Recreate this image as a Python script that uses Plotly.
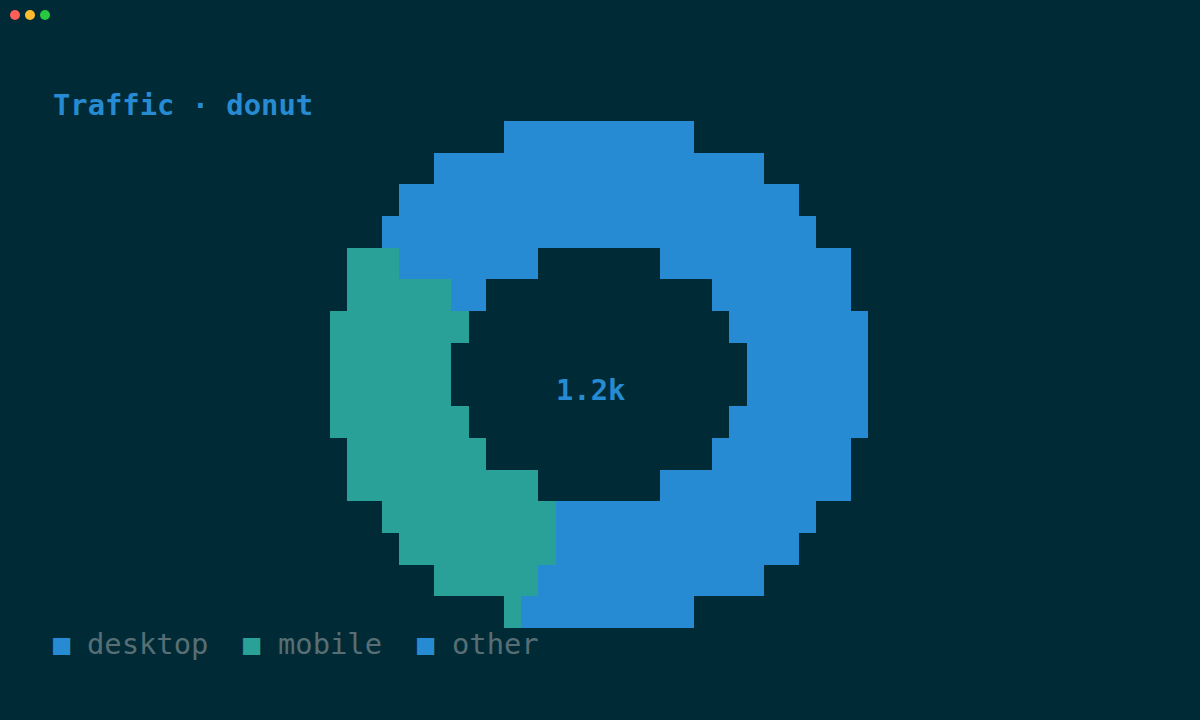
import math
import plotly.graph_objects as go

# traffic split (total shown in the middle)
categories = ["desktop", "mobile", "other"]
values = [650, 352, 198]
colors = ["#268bd2", "#2aa198", "#268bd2"]
center_label = "1.2k"
title = "Traffic · donut"

BG = "#002b36"
MUTED = "#586e75"
FONT = "DejaVu Sans Mono"
FS = 28.8
W, H = 1200, 720

# terminal style raster: 31 x 16 character cells
CELL_W, CELL_H = 17.35, 31.7
X0, Y0 = 330, 121          # pixel corner of the donut grid
n_cols, n_rows = 31, 16
cx, cy = 15, 7.5
outer_rx, outer_ry = 15.6, 8.0
inner_rx, inner_ry = 8.1, 4.0

total = sum(values)
edges = []
acc = 0
for v in values:
    acc += v
    edges.append(acc / total * 360)

z = []
for r in range(n_rows):
    row = []
    for c in range(n_cols):
        dx = c - cx
        dy = r - cy
        out = (dx / outer_rx) ** 2 + (dy / outer_ry) ** 2
        inn = (dx / inner_rx) ** 2 + (dy / inner_ry) ** 2
        if out > 1 or inn < 1:
            row.append(None)
            continue
        ang = math.degrees(math.atan2(dx, -dy * 2)) % 360
        k = 0
        while k < len(edges) - 1 and ang >= edges[k]:
            k += 1
        row.append(k)
    z.append(row)

n = len(categories)
scale = [[i / (n - 1), col] for i, col in enumerate(colors)]


def px_x(p):
    return (p - X0) / CELL_W - 0.5


def px_y(p):
    return (p - Y0) / CELL_H - 0.5


fig = go.Figure()
fig.add_trace(go.Heatmap(
    z=z, x=list(range(n_cols)), y=list(range(n_rows)),
    zmin=0, zmax=n - 1, colorscale=scale, showscale=False,
    hoverinfo="skip", xgap=0, ygap=0,
))

term_left = px_x(51.6)   # terminal column 0
annotations = []
annotations.append(dict(
    x=term_left, y=-1, xanchor="left", yanchor="middle",
    text="<b>" + title + "</b>", showarrow=False, borderpad=0,
    font=dict(family=FONT, size=FS, color="#268bd2"),
))
start = cx - len(center_label) // 2
annotations.append(dict(
    x=start - 0.5 + len(center_label) / 2, y=8,
    xanchor="center", yanchor="middle",
    text="<b>" + center_label + "</b>", showarrow=False, borderpad=0,
    font=dict(family=FONT, size=FS, color="#268bd2"),
))
col = 0
for name, color in zip(categories, colors):
    annotations.append(dict(
        x=term_left + col, y=16, xanchor="left", yanchor="middle",
        text="■", showarrow=False, borderpad=0,
        font=dict(family=FONT, size=FS, color=color),
    ))
    annotations.append(dict(
        x=term_left + col + 2, y=16, xanchor="left", yanchor="middle",
        text=name, showarrow=False, borderpad=0,
        font=dict(family=FONT, size=FS, color=MUTED),
    ))
    col += len(name) + 4

# window dots
dots = []
for i, c in enumerate(["#ff5f57", "#febc2e", "#28c840"]):
    px = 15 + 15 * i
    dots.append(dict(type="circle", xref="x", yref="y",
                     x0=px_x(px - 5), x1=px_x(px + 5),
                     y0=px_y(10), y1=px_y(20),
                     fillcolor=c, line=dict(width=0)))

fig.update_layout(
    width=W, height=H,
    margin=dict(l=0, r=0, t=0, b=0),
    paper_bgcolor=BG, plot_bgcolor=BG,
    xaxis=dict(range=[px_x(0), px_x(W)], visible=False, fixedrange=True),
    yaxis=dict(range=[px_y(H), px_y(0)], visible=False, fixedrange=True),
    annotations=annotations,
    shapes=dots,
    showlegend=False,
)

fig.write_html("out.html", config={"displayModeBar": False},
               post_script="document.body.style.margin='0';"
                           "document.body.style.background='" + BG + "';")
